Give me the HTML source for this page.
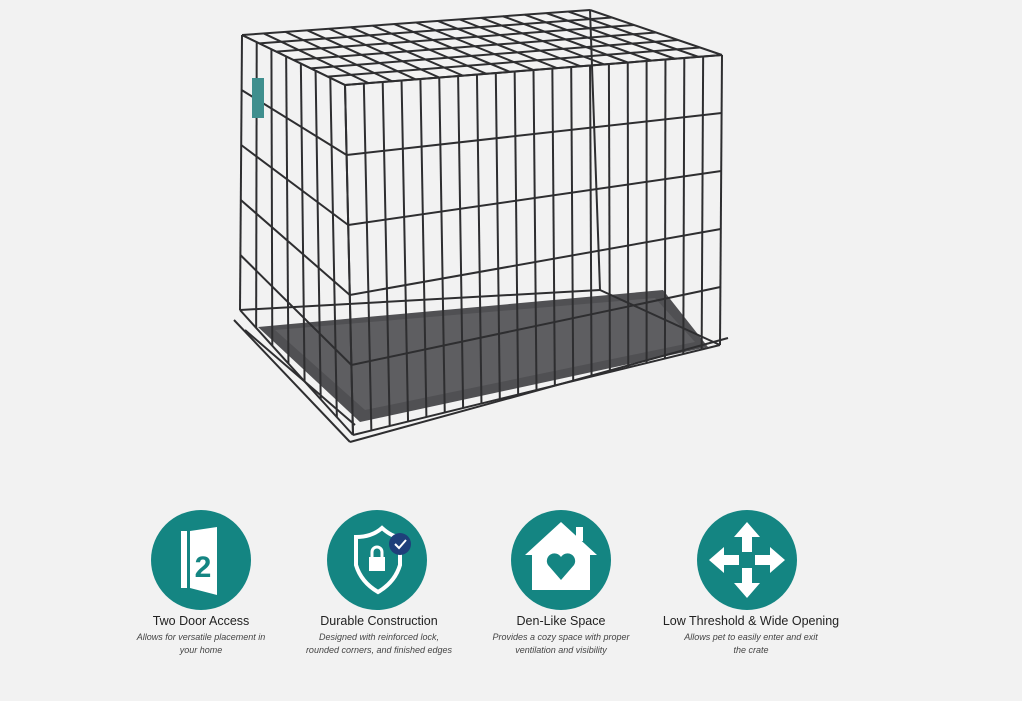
<!DOCTYPE html>
<html><head><meta charset="utf-8"><style>
html,body{margin:0;padding:0;background:#f2f2f2;width:1022px;height:701px;overflow:hidden;font-family:"Liberation Sans",sans-serif}
.wrap{position:relative;width:1022px;height:701px}
svg{position:absolute;left:0;top:0}
.t{position:absolute;width:200px;text-align:center;color:#333}
.t b{display:block;font-weight:normal;font-size:12.5px;color:#222;margin-bottom:3px}
.t i{display:block;font-size:9px;line-height:13px;color:#444}
</style></head><body><div class="wrap">
<svg id="c" width="1022" height="701" viewBox="0 0 1022 701">
<polygon points="258,327 663,290 708,347 360,422" fill="#505053"/>
<polygon points="275,330 655,298 695,342 365,410" fill="#5e5e61"/>
<g id="g" stroke="#2e2e30" stroke-width="2" fill="none"></g>
<rect x="252" y="78" width="12" height="40" fill="#3f8f8e"/>
<circle cx="201" cy="560" r="50" fill="#148582"/>
<circle cx="377" cy="560" r="50" fill="#148582"/>
<circle cx="561" cy="560" r="50" fill="#148582"/>
<circle cx="747" cy="560" r="50" fill="#148582"/>
<rect x="181" y="531" width="6" height="57" fill="#fff"/>
<polygon points="190,531 217,527 217,595 190,588" fill="#fff"/>
<text x="203" y="577" font-family="Liberation Sans" font-size="30" font-weight="bold" fill="#148582" text-anchor="middle">2</text>
<path d="M356,537 Q372,537 382,528 Q392,537 400,537 L400,565 Q395,582 378,592 Q361,582 356,565 Z" fill="none" stroke="#fff" stroke-width="4"/>
<rect x="369" y="557" width="16" height="14" fill="#fff"/>
<path d="M372,557 v-5 a5,5 0 0 1 10,0 v5" stroke="#fff" stroke-width="3" fill="none"/>
<circle cx="400" cy="544" r="11" fill="#1e3f7a"/>
<path d="M395,544 l4,4 l7,-8" stroke="#fff" stroke-width="2" fill="none"/>
<polygon points="561,522 597,555 590,555 590,590 532,590 532,555 525,555" fill="#fff"/>
<rect x="576" y="527" width="7" height="14" fill="#fff"/>
<path d="M561,580 L548,565 A7,7 0 0 1 561,557 A7,7 0 0 1 574,565 Z" fill="#148582"/>
<g fill="#fff">
<polygon points="747,522 760,537 752,537 752,552 742,552 742,537 734,537"/>
<polygon points="747,598 760,583 752,583 752,568 742,568 742,583 734,583"/>
<polygon points="709,560 724,547 724,555 739,555 739,565 724,565 724,573"/>
<polygon points="785,560 770,547 770,555 755,555 755,565 770,565 770,573"/>
</g>
</svg>
<div class="t" style="left:101px;top:614px"><b>Two Door Access</b><i>Allows for versatile placement in<br>your home</i></div>
<div class="t" style="left:279px;top:614px"><b>Durable Construction</b><i>Designed with reinforced lock,<br>rounded corners, and finished edges</i></div>
<div class="t" style="left:461px;top:614px"><b>Den-Like Space</b><i>Provides a cozy space with proper<br>ventilation and visibility</i></div>
<div class="t" style="left:651px;top:614px;width:200px"><b style="white-space:nowrap">Low Threshold &amp; Wide Opening</b><i>Allows pet to easily enter and exit<br>the crate</i></div>
</div>
<script>
var g=document.getElementById('g'),s='';
function L(a,b){s+='<line x1="'+a[0]+'" y1="'+a[1]+'" x2="'+b[0]+'" y2="'+b[1]+'"/>';}
function P(a,b,t){return[a[0]+(b[0]-a[0])*t,a[1]+(b[1]-a[1])*t];}
function face(tl,tr,br,bl,nv,nh){
 for(var i=0;i<=nv;i++){var t=i/nv;L(P(tl,tr,t),P(bl,br,t));}
 for(var j=0;j<=nh;j++){var u=j/nh;L(P(tl,bl,u),P(tr,br,u));}
}
var A=[242,35],B=[590,10],C=[722,55],D=[345,85],E=[720,345],F=[353,435],G=[240,310],H=[600,290];
face(D,C,E,F,20,5);
face(A,D,F,G,7,5);
face(A,B,C,D,16,6);
L(B,H);L(H,E);L(H,G);
L([234,320],[350,442]);L([350,442],[728,338]);
L([245,330],[355,425]);
g.innerHTML=s;
</script>
</body></html>
